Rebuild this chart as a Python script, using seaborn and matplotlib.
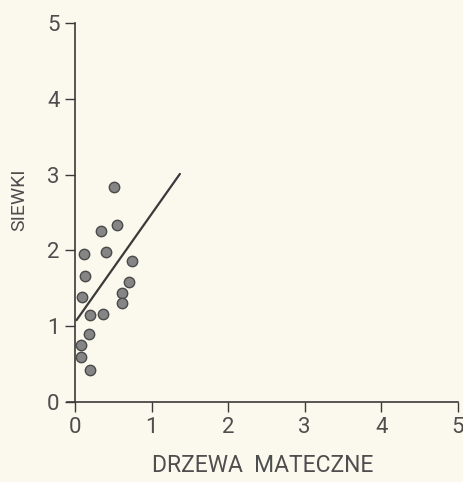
import numpy as np
import pandas as pd
import matplotlib
matplotlib.use("Agg")
import matplotlib.pyplot as plt
import seaborn as sns

# --- DATA ---
drzewa = [0.51, 0.55, 0.34, 0.40, 0.12, 0.75, 0.13, 0.70, 0.62, 0.09,
          0.62, 0.19, 0.36, 0.18, 0.08, 0.08, 0.20]
siewki = [2.84, 2.33, 2.26, 1.98, 1.95, 1.86, 1.66, 1.58, 1.44, 1.38,
          1.30, 1.15, 1.16, 0.90, 0.75, 0.60, 0.42]
line_x = [0.02, 1.37]
line_y = [1.08, 3.01]
ticks = [0, 1, 2, 3, 4, 5]

BG = "#fbf8ee"
INK = "#3a3a3a"
TXT = "#4e4e4e"

sns.set_theme(style="ticks")
plt.rcParams['font.family'] = ['Roboto', 'DejaVu Sans']

df = pd.DataFrame({"x": drzewa, "y": siewki})

fig = plt.figure(figsize=(4.63, 4.82), dpi=100, facecolor=BG)
ax = fig.add_axes([0.1454, 0.166, 0.8436, 0.786], facecolor=BG)

sns.scatterplot(data=df, x="x", y="y", ax=ax, s=56, color="#858585",
                edgecolor="#4a4a4a", linewidth=1.0, zorder=3)
sns.lineplot(x=line_x, y=line_y, ax=ax, color=INK, linewidth=1.6, zorder=2)

ax.set_xlim(-0.1, 5)
ax.set_ylim(0, 5)
ax.spines["left"].set_position(("data", 0))
ax.set_xticks(ticks)
ax.set_yticks(ticks)
ax.set_xticklabels([str(t) for t in ticks])
ax.set_yticklabels([str(t) for t in ticks])
ax.tick_params(axis="both", direction="out", length=7, width=1.0,
               colors=INK, labelcolor=TXT, labelsize=16, pad=4)

for side in ["top", "right"]:
    ax.spines[side].set_visible(False)
for side in ["left", "bottom"]:
    ax.spines[side].set_color(INK)
    ax.spines[side].set_linewidth(1.2)

ax.set_xlabel("DRZEWA  MATECZNE", fontsize=16.5, color=TXT, labelpad=11)
ax.set_ylabel("SIEWKI", fontsize=14, color=TXT)
ax.yaxis.set_label_coords(-0.1, 0.533)

fig.savefig("out.png", dpi=100, facecolor=BG)
